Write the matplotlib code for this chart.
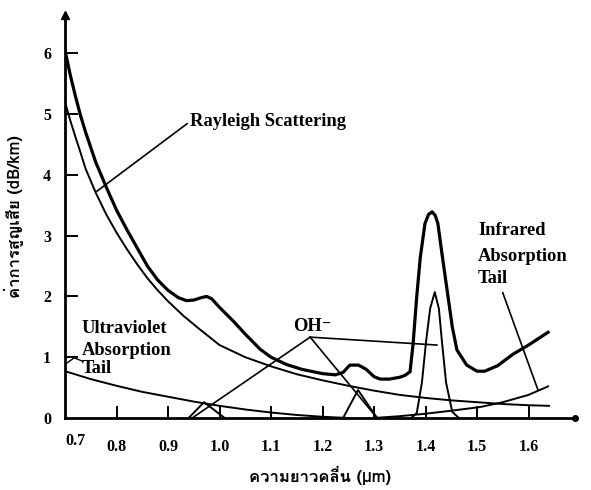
import matplotlib
matplotlib.use("Agg")
import matplotlib.pyplot as plt
import matplotlib.font_manager as fm
from matplotlib.ft2font import FT2Font


def find_thai_font():
    # first installed family that has Thai glyphs
    for f in fm.fontManager.ttflist:
        try:
            if 0x0E04 in FT2Font(f.fname).get_charmap():
                return f.name
        except Exception:
            pass
    return "DejaVu Sans"


thai_font = find_thai_font()

# Data (wavelength um, loss dB/km)
# -------------------------------------------------------
total_x = [0.70, 0.71, 0.72, 0.73, 0.74, 0.75, 0.76, 0.78, 0.80, 0.82, 0.84, 0.86,
           0.88, 0.90, 0.92, 0.936, 0.95, 0.965, 0.975, 0.985, 1.00, 1.026, 1.05,
           1.079, 1.10, 1.13, 1.16, 1.20, 1.225, 1.24, 1.253, 1.27, 1.285, 1.30,
           1.312, 1.33, 1.35, 1.36, 1.37, 1.376, 1.383, 1.39, 1.399, 1.406, 1.413,
           1.419, 1.424, 1.432, 1.442, 1.452, 1.461, 1.48, 1.50, 1.515, 1.54, 1.57,
           1.60, 1.638]
total_y = [6.05, 5.65, 5.30, 4.98, 4.70, 4.45, 4.20, 3.80, 3.42, 3.10, 2.80, 2.50,
           2.27, 2.10, 1.98, 1.93, 1.94, 1.98, 2.00, 1.96, 1.82, 1.60, 1.38,
           1.13, 1.00, 0.88, 0.80, 0.73, 0.71, 0.75, 0.87, 0.87, 0.80, 0.68,
           0.64, 0.64, 0.67, 0.70, 0.76, 1.23, 2.00, 2.65, 3.20, 3.35, 3.39,
           3.33, 3.20, 2.70, 2.10, 1.50, 1.12, 0.87, 0.77, 0.77, 0.86, 1.05,
           1.20, 1.41]

rayleigh_x = [0.70, 0.71, 0.72, 0.73, 0.74, 0.75, 0.76, 0.78, 0.80, 0.82, 0.84, 0.86,
              0.88, 0.90, 0.93, 0.96, 1.00, 1.05, 1.10, 1.15, 1.20, 1.25, 1.30, 1.35,
              1.40, 1.45, 1.50, 1.55, 1.60, 1.64]
rayleigh_y = [5.20, 4.90, 4.63, 4.37, 4.10, 3.90, 3.70, 3.35, 3.05, 2.78, 2.53, 2.30,
              2.10, 1.92, 1.68, 1.47, 1.20, 1.00, 0.85, 0.72, 0.62, 0.53, 0.45, 0.38,
              0.33, 0.29, 0.26, 0.23, 0.21, 0.20]

uv_x = [0.70, 0.75, 0.80, 0.85, 0.90, 0.95, 1.00, 1.05, 1.10, 1.15, 1.20, 1.25]
uv_y = [0.77, 0.64, 0.53, 0.43, 0.35, 0.27, 0.20, 0.14, 0.09, 0.05, 0.02, 0.00]

ir_x = [1.30, 1.35, 1.40, 1.45, 1.506, 1.55, 1.60, 1.638]
ir_y = [0.00, 0.03, 0.07, 0.12, 0.18, 0.26, 0.38, 0.52]

# OH absorption peaks
oh1_x = [0.94, 0.97, 1.01]
oh1_y = [0.00, 0.26, 0.00]
oh2_x = [1.24, 1.269, 1.306]
oh2_y = [0.00, 0.46, 0.00]
oh3_x = [1.372, 1.383, 1.393, 1.401, 1.409, 1.418, 1.426, 1.432, 1.440, 1.452, 1.465]
oh3_y = [0.00, 0.08, 0.58, 1.25, 1.80, 2.07, 1.80, 1.25, 0.58, 0.10, 0.00]

x_ticks = [0.8, 0.9, 1.0, 1.1, 1.2, 1.3, 1.4, 1.5, 1.6]
x_ticklabels = ["0.8", "0.9", "1.0", "1.1", "1.2", "1.3", "1.4", "1.5", "1.6"]
y_ticks = [1, 2, 3, 4, 5, 6]

# Figure
# ------
lab_font = ["Liberation Serif", "DejaVu Serif"]
fig = plt.figure(figsize=(5.91, 4.90), dpi=100)
ax = fig.add_axes([65 / 591, 72 / 490, 510 / 591, 403 / 490])
x_max = 0.7 + 510 / 515
y_max = 403 / 60.8
ax.set_xlim(0.7, x_max)
ax.set_ylim(0, y_max)

lw_thin = 1.4
ax.plot(total_x, total_y, color="black", linewidth=2.3, solid_joinstyle="round")
ax.plot(rayleigh_x, rayleigh_y, color="black", linewidth=lw_thin)
ax.plot(uv_x, uv_y, color="black", linewidth=lw_thin)
ax.plot(ir_x, ir_y, color="black", linewidth=lw_thin)
ax.plot(oh1_x, oh1_y, color="black", linewidth=lw_thin)
ax.plot(oh2_x, oh2_y, color="black", linewidth=lw_thin)
ax.plot(oh3_x, oh3_y, color="black", linewidth=lw_thin)

# leader lines
ax.plot([0.937, 0.762], [4.84, 3.73], color="black", linewidth=1.2)
ax.plot([1.550, 1.618], [2.06, 0.47], color="black", linewidth=1.2)
ax.plot([0.703, 0.718, 0.735], [0.90, 0.99, 0.93], color="black", linewidth=1.0)
apex = (1.176, 1.33)
ax.plot([apex[0], 0.947], [apex[1], 0.0], color="black", linewidth=1.2)
ax.plot([apex[0], 1.306], [apex[1], 0.0], color="black", linewidth=1.2)
ax.plot([apex[0], 1.422], [apex[1], 1.20], color="black", linewidth=1.2)

# labels
txt = dict(family=lab_font, fontweight="bold", fontsize=13.3, color="black")
ax.text(0.943, 4.80, "Rayleigh Scattering", **txt)
ax.text(1.502, 3.01, "Infrared", **txt)
ax.text(1.502, 2.58, "Absorption", **txt)
ax.text(1.502, 2.22, "Tail", **txt)
ax.text(0.733, 1.40, "Ultraviolet", **txt)
ax.text(0.733, 1.04, "Absorption", **txt)
ax.text(0.733, 0.74, "Tail", **txt)
ax.text(1.143, 1.43, "OH\u207b", **txt)

# axes look
for side in ["top", "right"]:
    ax.spines[side].set_visible(False)
ax.spines["left"].set_linewidth(2)
ax.spines["bottom"].set_linewidth(2)
ax.plot(0, 1, "^k", markersize=6, transform=ax.transAxes, clip_on=False)
ax.plot(1, 0, "ok", markersize=4, transform=ax.transAxes, clip_on=False)

ax.set_xticks(x_ticks)
ax.set_xticklabels(x_ticklabels)
ax.set_yticks([0] + y_ticks)
ax.set_yticklabels(["0"] + [str(v) for v in y_ticks])
ax.tick_params(direction="in", length=9, width=1.4, labelsize=11.5)
ax.tick_params(axis="x", pad=15)
ax.tick_params(axis="y", pad=10)
ax.yaxis.get_major_ticks()[0].tick1line.set_visible(False)
for lab in ax.get_xticklabels() + ax.get_yticklabels():
    lab.set_family(lab_font)
    lab.set_fontweight("bold")
ax.text(0.7 + 10 / 515, -0.25, "0.7", ha="center", va="top",
        family=lab_font, fontweight="bold", fontsize=11.5)

ax.set_xlabel("ความยาวคลื่น (µm)", family=[thai_font, "DejaVu Sans"],
              fontweight="bold", fontsize=12, labelpad=8)
ax.set_ylabel("ค่าการสูญเสีย (dB/km)", family=[thai_font, "DejaVu Sans"],
              fontweight="bold", fontsize=12, labelpad=14)

fig.savefig("out.png", dpi=100)
